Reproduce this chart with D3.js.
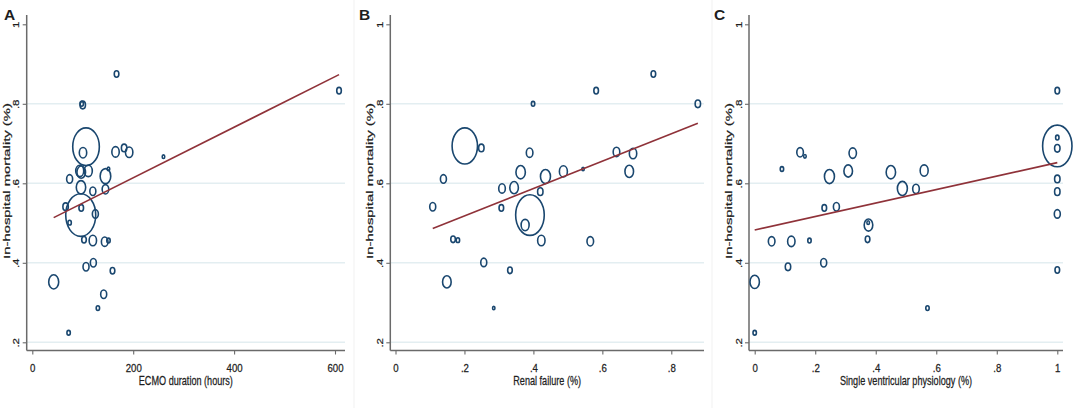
<!DOCTYPE html>
<html>
<head>
<meta charset="utf-8">
<script src="https://cdn.jsdelivr.net/npm/d3@7"></script>
<style>
  body { margin: 0; background: #fff; }
  svg text { font-family: "Liberation Sans", Arial, sans-serif; fill: #1e1e1e; stroke: #1e1e1e; stroke-width: 0.25px; }
</style>
</head>
<body>
<div id="chart"></div>
<script>
// panel A: ECMO duration (hours)
var ecmoHours = [167, 608, 98, 100, 106.5, 100.5, 165, 182, 192, 260, 94, 97, 111, 74, 145, 151, 96.5, 145, 120, 66, 97, 96, 125, 74, 102.5, 120, 143.5, 151, 106.5, 121, 159, 42.4, 141.5, 130, 72];
var ecmoMort  = [.875, .833, .80, .797, .692, .677, .679, .689, .678, .667, .631, .628, .631, .611, .618, .636, .590, .585, .580, .541, .538, .520, .523, .501, .458, .456, .453, .456, .390, .400, .380, .352, .321, .286, .224];
var ecmoWt    = [48, 48, 26, 66, 1592, 123, 123, 66, 123, 15, 144, 166, 144, 81, 253, 15, 199, 98, 81, 66, 48, 2025, 81, 26, 48, 123, 98, 26, 81, 81, 48, 225, 81, 26, 26];

// panel B: renal failure
var renalPct  = [.748, .582, .399, .877, .201, .249, .389, .641, .689, .363, .435, .487, .544, .678, .139, .309, .344, .420, .108, .307, .390, .376, .167, .181, .423, .565, .256, .332, .149, .285];
var renalMort = [.875, .833, .80, .80, .694, .689, .677, .679, .675, .628, .617, .630, .636, .630, .611, .587, .589, .579, .541, .538, .520, .495, .459, .457, .456, .454, .401, .381, .352, .286];
var renalWt   = [48, 48, 26, 66, 1450, 66, 98, 98, 123, 199, 225, 144, 13, 166, 81, 98, 166, 66, 81, 48, 1840, 144, 48, 26, 123, 98, 81, 48, 166, 13];

// panel C: single ventricular physiology
var svpPct    = [1, 1, 1, 1, 1, 1, 1, 1, .090, .150, .166, .247, .309, .324, .450, .488, .533, .560, .230, .270, .376, .375, .056, .121, .181, .373, .110, .228, 0, .571, 0];
var svpMort   = [.833, .694, .715, .688, .611, .579, .523, .382, .636, .678, .668, .617, .631, .676, .628, .587, .586, .632, .538, .541, .495, .501, .454, .454, .456, .459, .390, .400, .352, .286, .224];
var svpWt     = [48, 1940, 26, 66, 66, 66, 81, 48, 26, 98, 15, 225, 166, 123, 199, 225, 98, 144, 48, 81, 166, 15, 98, 123, 26, 48, 66, 81, 199, 26, 26];

// fitted lines: [intercept, slope]
var fitA = [0.4867, 0.000636];
var fitB = [0.4488, 0.3446];
var fitC = [0.4825, 0.1695];

var yTicks = [.2, .4, .6, .8, 1];
var xTicksA = [0, 200, 400, 600];
var xTicksB = [0, .2, .4, .6, .8];
var xTicksC = [0, .2, .4, .6, .8, 1];

var letters = ["A", "B", "C"];
var xTitles = ["ECMO duration (hours)", "Renal failure (%)", "Single ventricular physiology (%)"];
var yTitle = "In-hospital mortality (%)";

var W = 1074, H = 408;
var navy = "#1a476f", maroon = "#8f3239", grid = "#e3eef1", axisCol = "#6a6a6a";

var svg = d3.select("#chart").append("svg")
  .attr("width", W).attr("height", H);

// faint panel separators
[354, 712].forEach(function(sx) {
  svg.append("line").attr("x1", sx).attr("x2", sx).attr("y1", 0).attr("y2", H)
    .attr("stroke", "#f1f1f1").attr("stroke-width", 1);
});

var y = d3.scaleLinear().domain([.2, 1]).range([342.3, 24.3]);

function fmt(d) {
  if (d === 0 || d === 1 || d >= 10) return String(d);
  return String(d).replace(/^0/, "");
}

function drawPanel(p) {
  var x = d3.scaleLinear().domain(p.dom).range(p.rng);
  var g = svg.append("g");
  var axisY = 350.5, topY = 15;

  // gridlines
  g.selectAll(".grid").data(yTicks.filter(function(t) { return t < 1; }))
    .enter().append("line")
    .attr("x1", p.axisX).attr("x2", p.endX)
    .attr("y1", function(d) { return y(d); }).attr("y2", function(d) { return y(d); })
    .attr("stroke", grid).attr("stroke-width", 1.5);

  // axes
  var ax = g.append("g").attr("transform", "translate(0," + axisY + ")")
    .call(d3.axisBottom(x).tickValues(p.xt).tickSize(4).tickFormat(fmt));
  ax.select(".domain").remove();
  ax.selectAll(".tick line").attr("stroke", axisCol).attr("stroke-width", 1.1);
  ax.selectAll(".tick text")
    .attr("y", null).attr("dy", null)
    .attr("transform", "translate(0,21.4) scale(0.84,1)")
    .style("font-size", "11.5px").attr("fill", "#1e1e1e");

  var ay = g.append("g").attr("transform", "translate(" + p.axisX + ",0)")
    .call(d3.axisLeft(y).tickValues(yTicks).tickSize(4).tickFormat(fmt));
  ay.select(".domain").remove();
  ay.selectAll(".tick line").attr("stroke", axisCol).attr("stroke-width", 1.1);
  ay.selectAll(".tick text")
    .attr("x", null).attr("dy", null)
    .attr("text-anchor", "middle")
    .attr("transform", "translate(-7.5,0) rotate(-90) scale(1,0.84)")
    .style("font-size", "11.5px").attr("fill", "#1e1e1e");

  g.append("line").attr("x1", p.axisX).attr("x2", p.axisX).attr("y1", topY).attr("y2", axisY)
    .attr("stroke", axisCol).attr("stroke-width", 1.5);
  g.append("line").attr("x1", p.axisX).attr("x2", p.endX).attr("y1", axisY).attr("y2", axisY)
    .attr("stroke", axisCol).attr("stroke-width", 1.5);

  // titles
  g.append("text")
    .attr("transform", "translate(" + ((p.axisX + p.endX) / 2) + ",384.5) scale(0.76,1)")
    .attr("text-anchor", "middle").style("font-size", "12px").text(p.xTitle);
  g.append("text")
    .attr("transform", "translate(" + (p.axisX - 17) + ",181) rotate(-90) scale(1.35,0.84)")
    .attr("text-anchor", "middle").style("font-size", "11px").text(yTitle);
  g.append("text").attr("x", p.letterX).attr("y", 20)
    .style("font-size", "15.5px").style("font-weight", "bold").attr("fill", "#000")
    .style("stroke", "none").text(p.letter);

  // bubbles
  var r = function(w) { return Math.sqrt(w) / 3; };
  var pts = p.xs.map(function(v, i) { return { x: v, y: p.ys[i], w: p.ws[i] }; });
  g.selectAll(".bub").data(pts).enter().append("ellipse")
    .attr("cx", function(d) { return x(d.x); })
    .attr("cy", function(d) { return y(d.y); })
    .attr("rx", function(d) { return r(d.w); })
    .attr("ry", function(d) { return r(d.w) * 1.42; })
    .attr("fill", "none").attr("stroke", navy).attr("stroke-width", 1.6);

  // fitted line between min and max x
  var ext = d3.extent(p.xs);
  var line = d3.line().x(function(d) { return x(d); })
    .y(function(d) { return y(p.fit[0] + p.fit[1] * d); });
  g.append("path").attr("d", line(ext))
    .attr("fill", "none").attr("stroke", maroon).attr("stroke-width", 1.6);
}

drawPanel({ xs: ecmoHours, ys: ecmoMort, ws: ecmoWt, fit: fitA, xt: xTicksA,
  dom: [0, 600], rng: [32.3, 335], axisX: 26.7, endX: 345,
  xTitle: xTitles[0], letter: letters[0], letterX: 4 });
drawPanel({ xs: renalPct, ys: renalMort, ws: renalWt, fit: fitB, xt: xTicksB,
  dom: [0, .8], rng: [395.5, 671.3], axisX: 390.3, endX: 704,
  xTitle: xTitles[1], letter: letters[1], letterX: 359 });
drawPanel({ xs: svpPct, ys: svpMort, ws: svpWt, fit: fitC, xt: xTicksC,
  dom: [0, 1], rng: [754.7, 1057.3], axisX: 749, endX: 1063,
  xTitle: xTitles[2], letter: letters[2], letterX: 714 });
</script>
</body>
</html>
